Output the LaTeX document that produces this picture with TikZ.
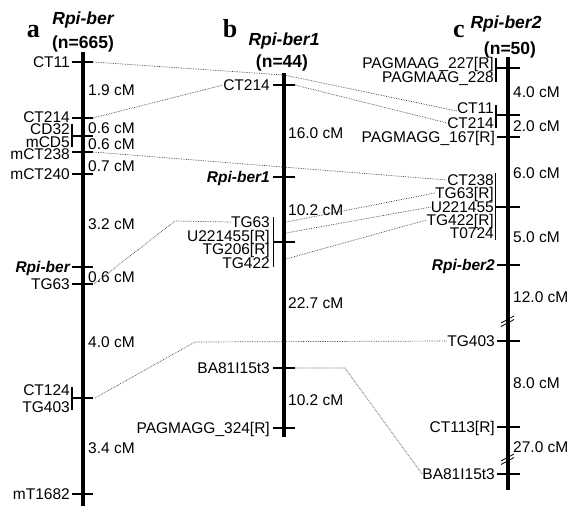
\documentclass[tikz,border=0pt]{standalone}
\usepackage{fontspec}
\setmainfont{Liberation Sans}
\newfontfamily\serfont{Liberation Serif}
\begin{document}
\begin{tikzpicture}[x=1pt,y=-1pt,
  chrom/.style={line width=4pt},
  tickmark/.style={line width=1.8pt},
  brkt/.style={line width=1.2pt},
  lbl/.style={inner sep=0pt, font=\fontsize{15.5}{17}\selectfont, text height=11.1pt, text depth=0pt},
  lbll/.style={lbl, anchor=east},
  genel/.style={lbl, anchor=east, font=\bfseries\itshape\fontsize{15.5}{17}\selectfont},
  dist/.style={lbl, anchor=west},
  conn/.style={densely dotted, line width=0.7pt, black!75},
  ttl/.style={inner sep=0pt, font=\bfseries\itshape\fontsize{17.5}{19}\selectfont, text height=12.5pt, text depth=0pt},
  ttln/.style={inner sep=0pt, font=\bfseries\fontsize{17.5}{19}\selectfont, text height=12.5pt, text depth=0pt},
  letter/.style={inner sep=0pt, font=\serfont\bfseries\fontsize{26}{28}\selectfont},
  breakmark/.style={line width=0.8pt}
]
\useasboundingbox (0,0) rectangle (570,506);

% ---------- titles ----------
\node[letter] (la) at (33.5,31.5) {a};
\node[ttl] (ta) at (83,18) {Rpi-ber};
\node[ttln] (na) at (83,42) {(n=665)};
\node[letter] (lb) at (230,28.5) {b};
\node[ttl] (tb) at (284,39) {Rpi-ber1};
\node[ttln] (nb) at (282,61) {(n=44)};
\node[letter] (lc) at (459,31) {c};
\node[ttl] (tc) at (506,22) {Rpi-ber2};
\node[ttln] (nc) at (510,48) {(n=50)};

% ---------- chromosome a ----------
\draw[chrom] (82.5,52) -- (82.5,506);
\foreach \y in {62,118,136,152,174,267,284,398,494} \draw[tickmark] (72,\y) -- (93,\y);
\draw[brkt] (72,124) -- (72,147);
\draw[brkt] (72,387) -- (72,410);
\node[lbll] (aCT11) at (70,62) {CT11};
\node[lbll] (aCT214) at (70,116.5) {CT214};
\node[lbll] (aCD32) at (70,128.5) {CD32};
\node[lbll] (amCD5) at (70,141.5) {mCD5};
\node[lbll] (amCT238) at (70,154) {mCT238};
\node[lbll] (amCT240) at (70,174) {mCT240};
\node[genel] (aRpi) at (70,267) {Rpi-ber};
\node[lbll] (aTG63) at (70,284) {TG63};
\node[lbll] (aCT124) at (70,390) {CT124};
\node[lbll] (aTG403) at (70,407) {TG403};
\node[lbll] (amT1682) at (70,494) {mT1682};
\node[dist] (ad1) at (88,90) {1.9 cM};
\node[dist] (ad2) at (88,128) {0.6 cM};
\node[dist] (ad3) at (88,144) {0.6 cM};
\node[dist] (ad4) at (88,166) {0.7 cM};
\node[dist] (ad5) at (88,224) {3.2 cM};
\node[dist] (ad6) at (88,277) {0.6 cM};
\node[dist] (ad7) at (88,342) {4.0 cM};
\node[dist] (ad8) at (88,448) {3.4 cM};
\coordinate (aCT11e) at (93,62);
\coordinate (aCT214e) at (93,118);
\coordinate (amCT238e) at (93,152);
\coordinate (aTG63e) at (94,284);
\coordinate (aTG403e) at (95,398);

% ---------- chromosome b ----------
\draw[chrom] (284,73) -- (284,437);
\foreach \y in {85,177,242,368,428} \draw[tickmark] (273,\y) -- (295,\y);
\draw[brkt] (273.5,217) -- (273.5,267);
\node[lbll] (bCT214) at (270,85) {CT214};
\node[genel] (bRpi) at (270,177) {Rpi-ber1};
\node[lbll] (bTG63) at (270,222) {TG63};
\node[lbll] (bU221455) at (270,236) {U221455[R]};
\node[lbll] (bTG206) at (270,249) {TG206[R]};
\node[lbll] (bTG422) at (270,263) {TG422};
\node[lbll] (bBA81) at (270,368) {BA81I15t3};
\node[lbll] (bPAG324) at (270,428) {PAGMAGG\_324[R]};
\node[dist] (bd1) at (288,133) {16.0 cM};
\node[dist] (bd2) at (288,210) {10.2 cM};
\node[dist] (bd3) at (288,303) {22.7 cM};
\node[dist] (bd4) at (288,400) {10.2 cM};
\coordinate (bCT214e) at (295,85);
\coordinate (bBA81e) at (295,368);
\coordinate (bTG63e) at (286,222);
\coordinate (bU221455e) at (286,233);
\coordinate (bTG422e) at (286,259);

% ---------- chromosome c ----------
\draw[chrom] (508,57) -- (508,490);
\foreach \y in {137,265,341,427,474} \draw[tickmark] (497,\y) -- (520,\y);
\foreach \y in {68,115,207} \draw[tickmark] (496,\y) -- (520,\y);
\draw[brkt] (496,58) -- (496,82);
\draw[brkt] (496,105) -- (496,128);
\draw[brkt] (495.5,173) -- (495.5,240);
\draw[breakmark] (501,323) -- (514,316);
\draw[breakmark] (501,326.5) -- (514,319.5);
\draw[breakmark] (501,461) -- (514,454);
\draw[breakmark] (501,464.5) -- (514,457.5);
\node[lbll] (cPAG227) at (494,63) {PAGMAAG\_227[R]};
\node[lbll] (cPAG228) at (494,77) {PAGMAAG\_228};
\node[lbll] (cCT11) at (494,108) {CT11};
\node[lbll] (cCT214) at (494,123) {CT214};
\node[lbll] (cPAG167) at (495,137) {PAGMAGG\_167[R]};
\node[lbll] (cCT238) at (494,180) {CT238};
\node[lbll] (cTG63) at (494,193) {TG63[R]};
\node[lbll] (cU221455) at (494,207) {U221455};
\node[lbll] (cTG422) at (494,220) {TG422[R]};
\node[lbll] (cT0724) at (494,233) {T0724};
\node[genel] (cRpi) at (495,265) {Rpi-ber2};
\node[lbll] (cTG403) at (495,341) {TG403};
\node[lbll] (cCT113) at (495,427) {CT113[R]};
\node[lbll] (cBA81) at (495,474) {BA81I15t3};
\node[dist] (cd1) at (513,92) {4.0 cM};
\node[dist] (cd2) at (513,126) {2.0 cM};
\node[dist] (cd3) at (513,173) {6.0 cM};
\node[dist] (cd4) at (513,237) {5.0 cM};
\node[dist] (cd5) at (513,297) {12.0 cM};
\node[dist] (cd6) at (513,383) {8.0 cM};
\node[dist] (cd7) at (513,447) {27.0 cM};

% ---------- connectors ----------
\coordinate (k1) at (284,75);
\coordinate (k5) at (175,221);
\coordinate (k9) at (195,342);
\coordinate (k10) at (345,368);
\draw[conn] (aCT11e) -- (k1) -- ([yshift=-3pt]cCT11.west);
\draw[conn] (aCT214e) -- (bCT214.west);
\draw[conn] (bCT214e) -- (cCT214.west);
\draw[conn] (amCT238e) -- (cCT238.west);
\draw[conn] (aTG63e) -- (k5) -- (bTG63.west);
\draw[conn] (bTG63e) -- (cTG63.west);
\draw[conn] (bU221455e) -- (cU221455.west);
\draw[conn] (bTG422e) -- (cTG422.west);
\draw[conn] (aTG403e) -- (k9) -- (cTG403.west);
\draw[conn] (bBA81e) -- (k10) -- (cBA81.west);
\end{tikzpicture}
\end{document}
